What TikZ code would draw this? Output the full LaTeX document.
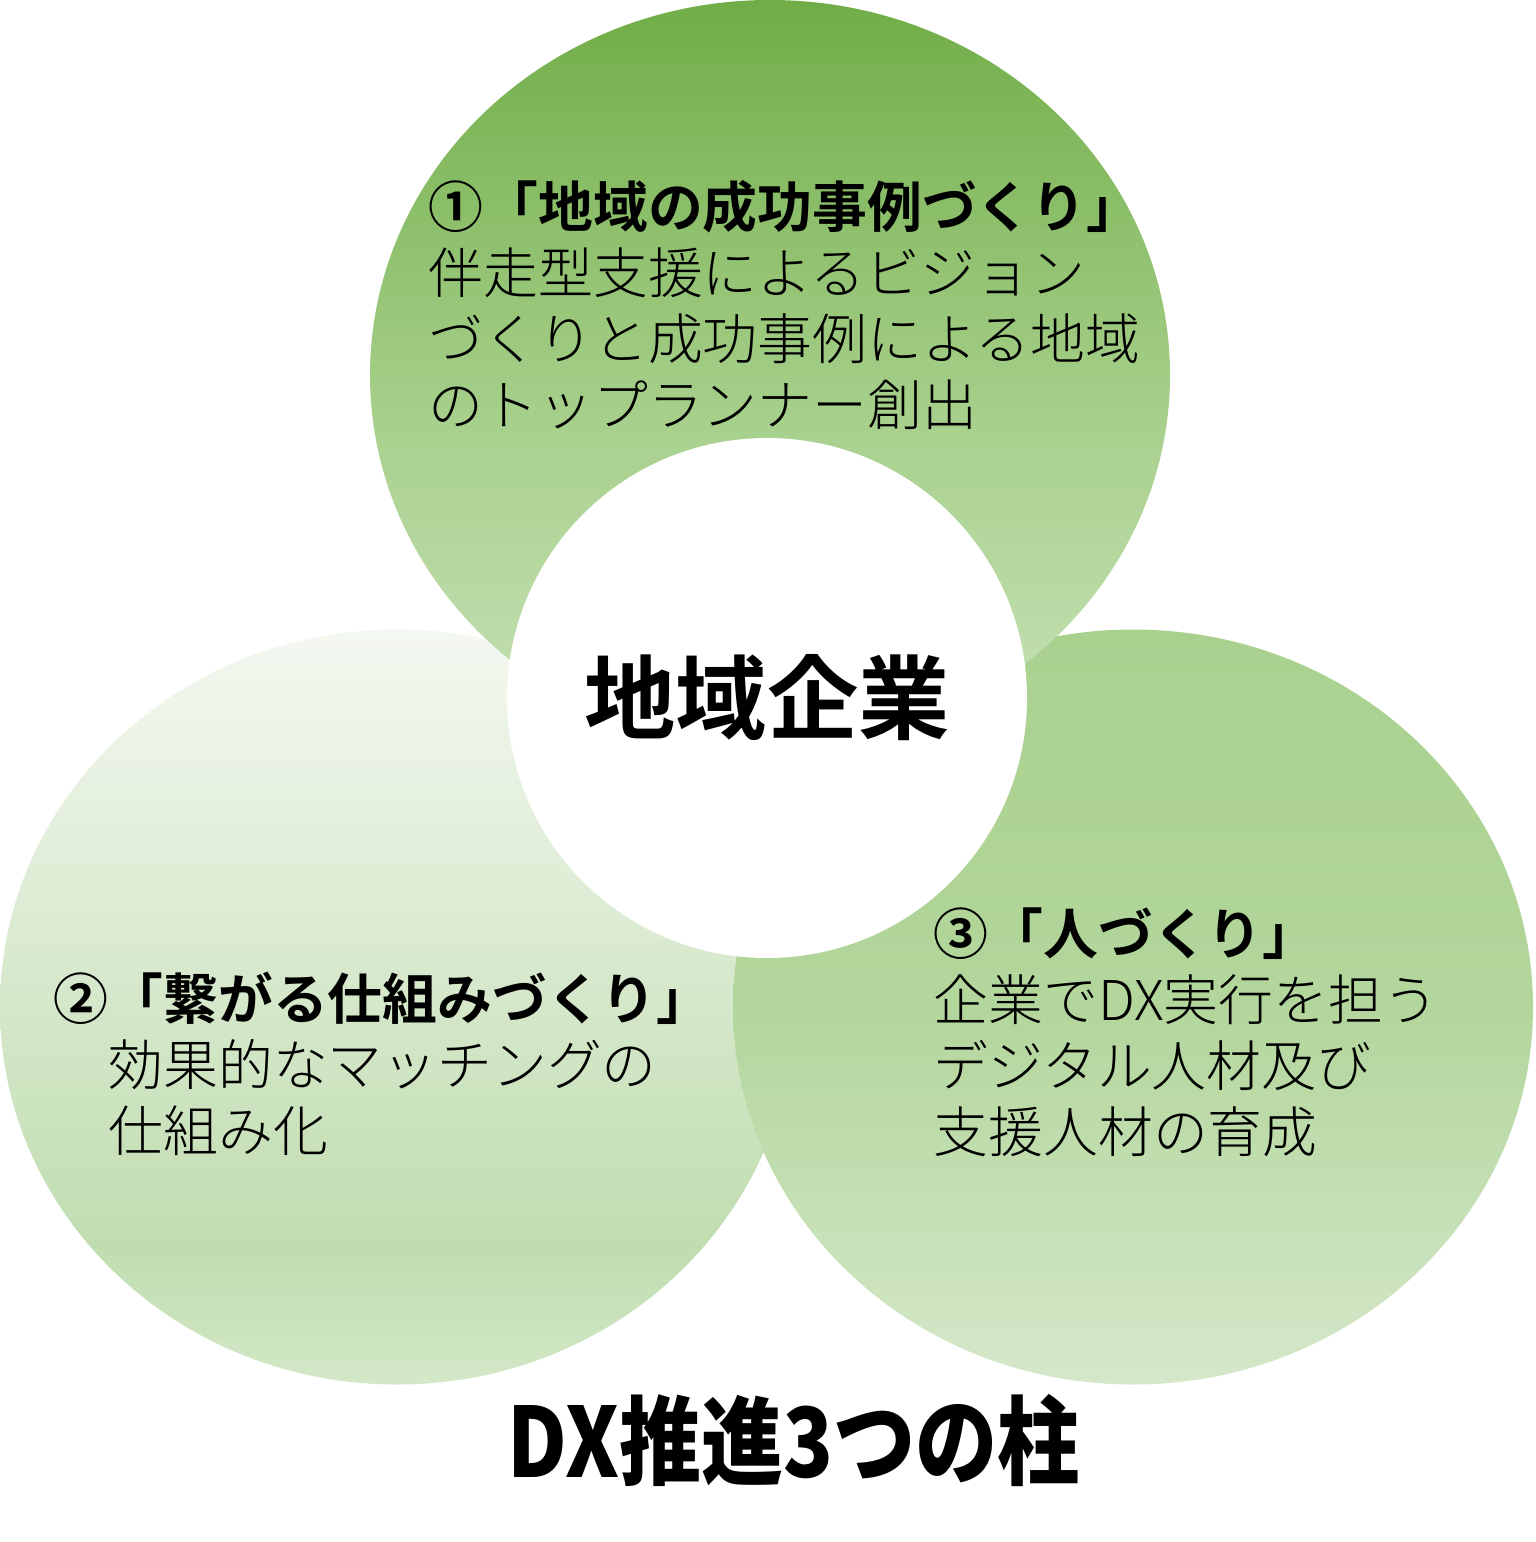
\documentclass[tikz,border=0pt]{standalone}
\usepackage{fontspec}
\setmainfont{Noto Sans CJK JP}[UprightFont=* Light, BoldFont=* Bold]
\newfontfamily\titlefont[FakeStretch=0.85]{Noto Sans CJK JP}
\usetikzlibrary{shapes.geometric}

% gradient colours of the three pillars
\definecolor{topA}{HTML}{70AD47}
\definecolor{topB}{HTML}{A9D18E}
\definecolor{topC}{HTML}{C8E2B8}
\definecolor{leftA}{HTML}{F4F8F1}
\definecolor{leftB}{HTML}{C0DDB0}
\definecolor{leftC}{HTML}{D3E8C7}
\definecolor{rightA}{HTML}{A9D18E}
\definecolor{rightB}{HTML}{B3D69C}
\definecolor{rightC}{HTML}{D5E8CA}

\pgfdeclareverticalshading{topfill}{100bp}{color(0bp)=(topC); color(25bp)=(topC); color(46bp)=(topB); color(75bp)=(topA); color(100bp)=(topA)}
\pgfdeclareverticalshading{leftfill}{100bp}{color(0bp)=(leftC); color(25bp)=(leftC); color(34bp)=(leftB); color(75bp)=(leftA); color(100bp)=(leftA)}
\pgfdeclareverticalshading{rightfill}{100bp}{color(0bp)=(rightC); color(25bp)=(rightC); color(50bp)=(rightB); color(75bp)=(rightA); color(100bp)=(rightA)}

\begin{document}
\begin{tikzpicture}[
  pillar/.style={ellipse, minimum width=8cm, minimum height=7.55cm, inner sep=0pt},
  pillartext/.style={anchor=base west, align=left, inner sep=0pt, font=\fontsize{15.6}{18.7}\selectfont},
]
  \useasboundingbox (0,0) rectangle (15.35,-15.42);

  % 3 pillars (top one lies in front)
  \node[pillar, minimum width=7.94cm, shading=leftfill] (pillar2) at (3.97,-10.07) {};
  \node[pillar, shading=rightfill] (pillar3) at (11.33,-10.07) {};
  \node[pillar, minimum height=7.5cm, shading=topfill] (pillar1) at (7.70,-3.75) {};

  % center
  \node[circle, fill=white, minimum size=5.2cm, inner sep=0pt, font=\fontsize{26}{30}\selectfont\bfseries]
    (core) at (7.67,-6.98) {地域企業};

  % pillar texts (anchored at the baseline of the last line)
  \node[pillartext] (text1) at (4.28,-4.25)
    {{\bfseries ①「地域の成功事例づくり」}\\伴走型支援によるビジョン\\づくりと成功事例による地域\\のトップランナー創出};
  \node[pillartext] (text2) at (0.53,-11.51)
    {{\bfseries ②「繋がる仕組みづくり」}\\　効果的なマッチングの\\　仕組み化};
  \node[pillartext] (text3) at (9.33,-11.52)
    {{\bfseries ③「人づくり」}\\企業でDX実行を担う\\デジタル人材及び\\支援人材の育成};

  % title
  \node[font=\titlefont\bfseries\fontsize{27.5}{31}\selectfont] (title) at (7.94,-14.40) {DX推進3つの柱};
\end{tikzpicture}
\end{document}
